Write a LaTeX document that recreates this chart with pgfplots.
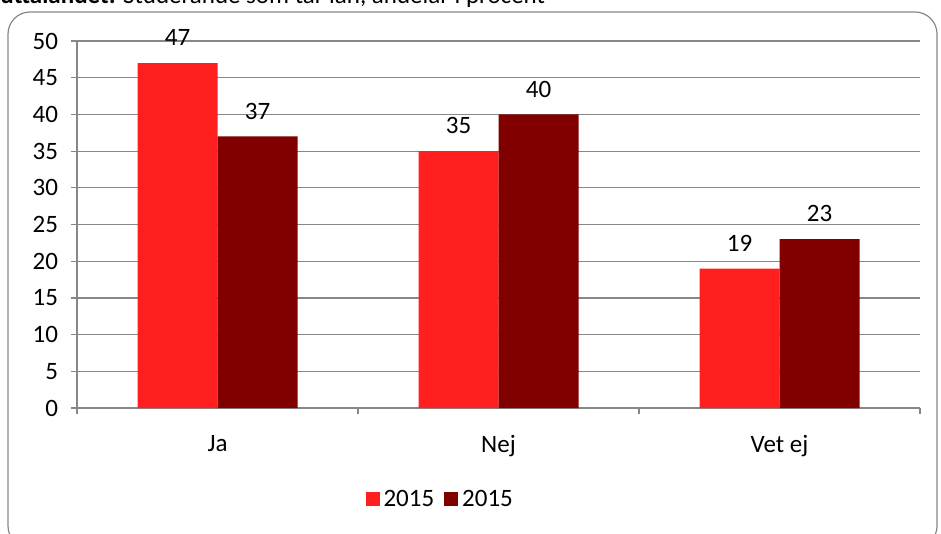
\documentclass[border=0pt]{standalone}
\usepackage{pgfplots}
\pgfplotsset{compat=1.18}
\usepackage{fontspec}
\setmainfont{Carlito}
\definecolor{ljusröd}{HTML}{FF1F1F}
\definecolor{mörkröd}{HTML}{800000}
\definecolor{axgrå}{HTML}{878787}

\begin{document}
\begin{tikzpicture}[x=1pt,y=1pt]
\useasboundingbox (0,0) rectangle (470.5,-267);
\node[anchor=base west,font=\fontsize{12.5}{14}\selectfont,inner sep=0pt] at (0,-1.8)
  {\textbf{uttalandet:} Studerande som tar lån, andelar i procent};
\draw[axgrå,line width=0.6pt,rounded corners=11pt] (4,-6) rectangle (468.5,-274);
\begin{axis}[
    at={(38.5pt,-204pt)}, anchor=south west,
    scale only axis,
    width=421.5pt, height=183.5pt,
    xmin=0, xmax=3, ymin=0, ymax=50,
    ybar=0pt, bar width=40pt,
    xtick={0.5,1.5,2.5},
    xticklabels={Ja,Nej,Vet ej},
    minor xtick={0,1,2,3},
    ytick={0,5,...,50},
    major x tick style={draw=none},
    minor tick length=3pt,
    major tick length=3pt,
    tick align=outside,
    tick style={axgrå,line width=0.6pt},
    axis x line*=bottom, axis y line*=left,
    axis line style={axgrå,line width=0.6pt,-},
    ymajorgrids=true,
    grid style={axgrå,line width=0.6pt},
    font=\fontsize{12.5}{14}\selectfont,
    /pgf/number format/assume math mode=true,
    xticklabel style={yshift=-7pt},
    yticklabel style={xshift=-3pt},
    nodes near coords,
    nodes near coords style={font=\fontsize{12.5}{14}\selectfont,yshift=5pt},
    legend style={at={(0.432,-0.2)},anchor=north,draw=none,
        legend columns=-1,font=\fontsize{12.5}{14}\selectfont,
        /tikz/every even column/.append style={column sep=3pt}},
    legend image code/.code={\fill[#1] (0pt,-3.5pt) rectangle (7pt,3.5pt);},
]
\addplot[fill=ljusröd,draw=none] coordinates {(0.5,47) (1.5,35) (2.5,19)};
\addplot[fill=mörkröd,draw=none] coordinates {(0.5,37) (1.5,40) (2.5,23)};
\legend{2015,2015}
\end{axis}
\end{tikzpicture}
\end{document}
